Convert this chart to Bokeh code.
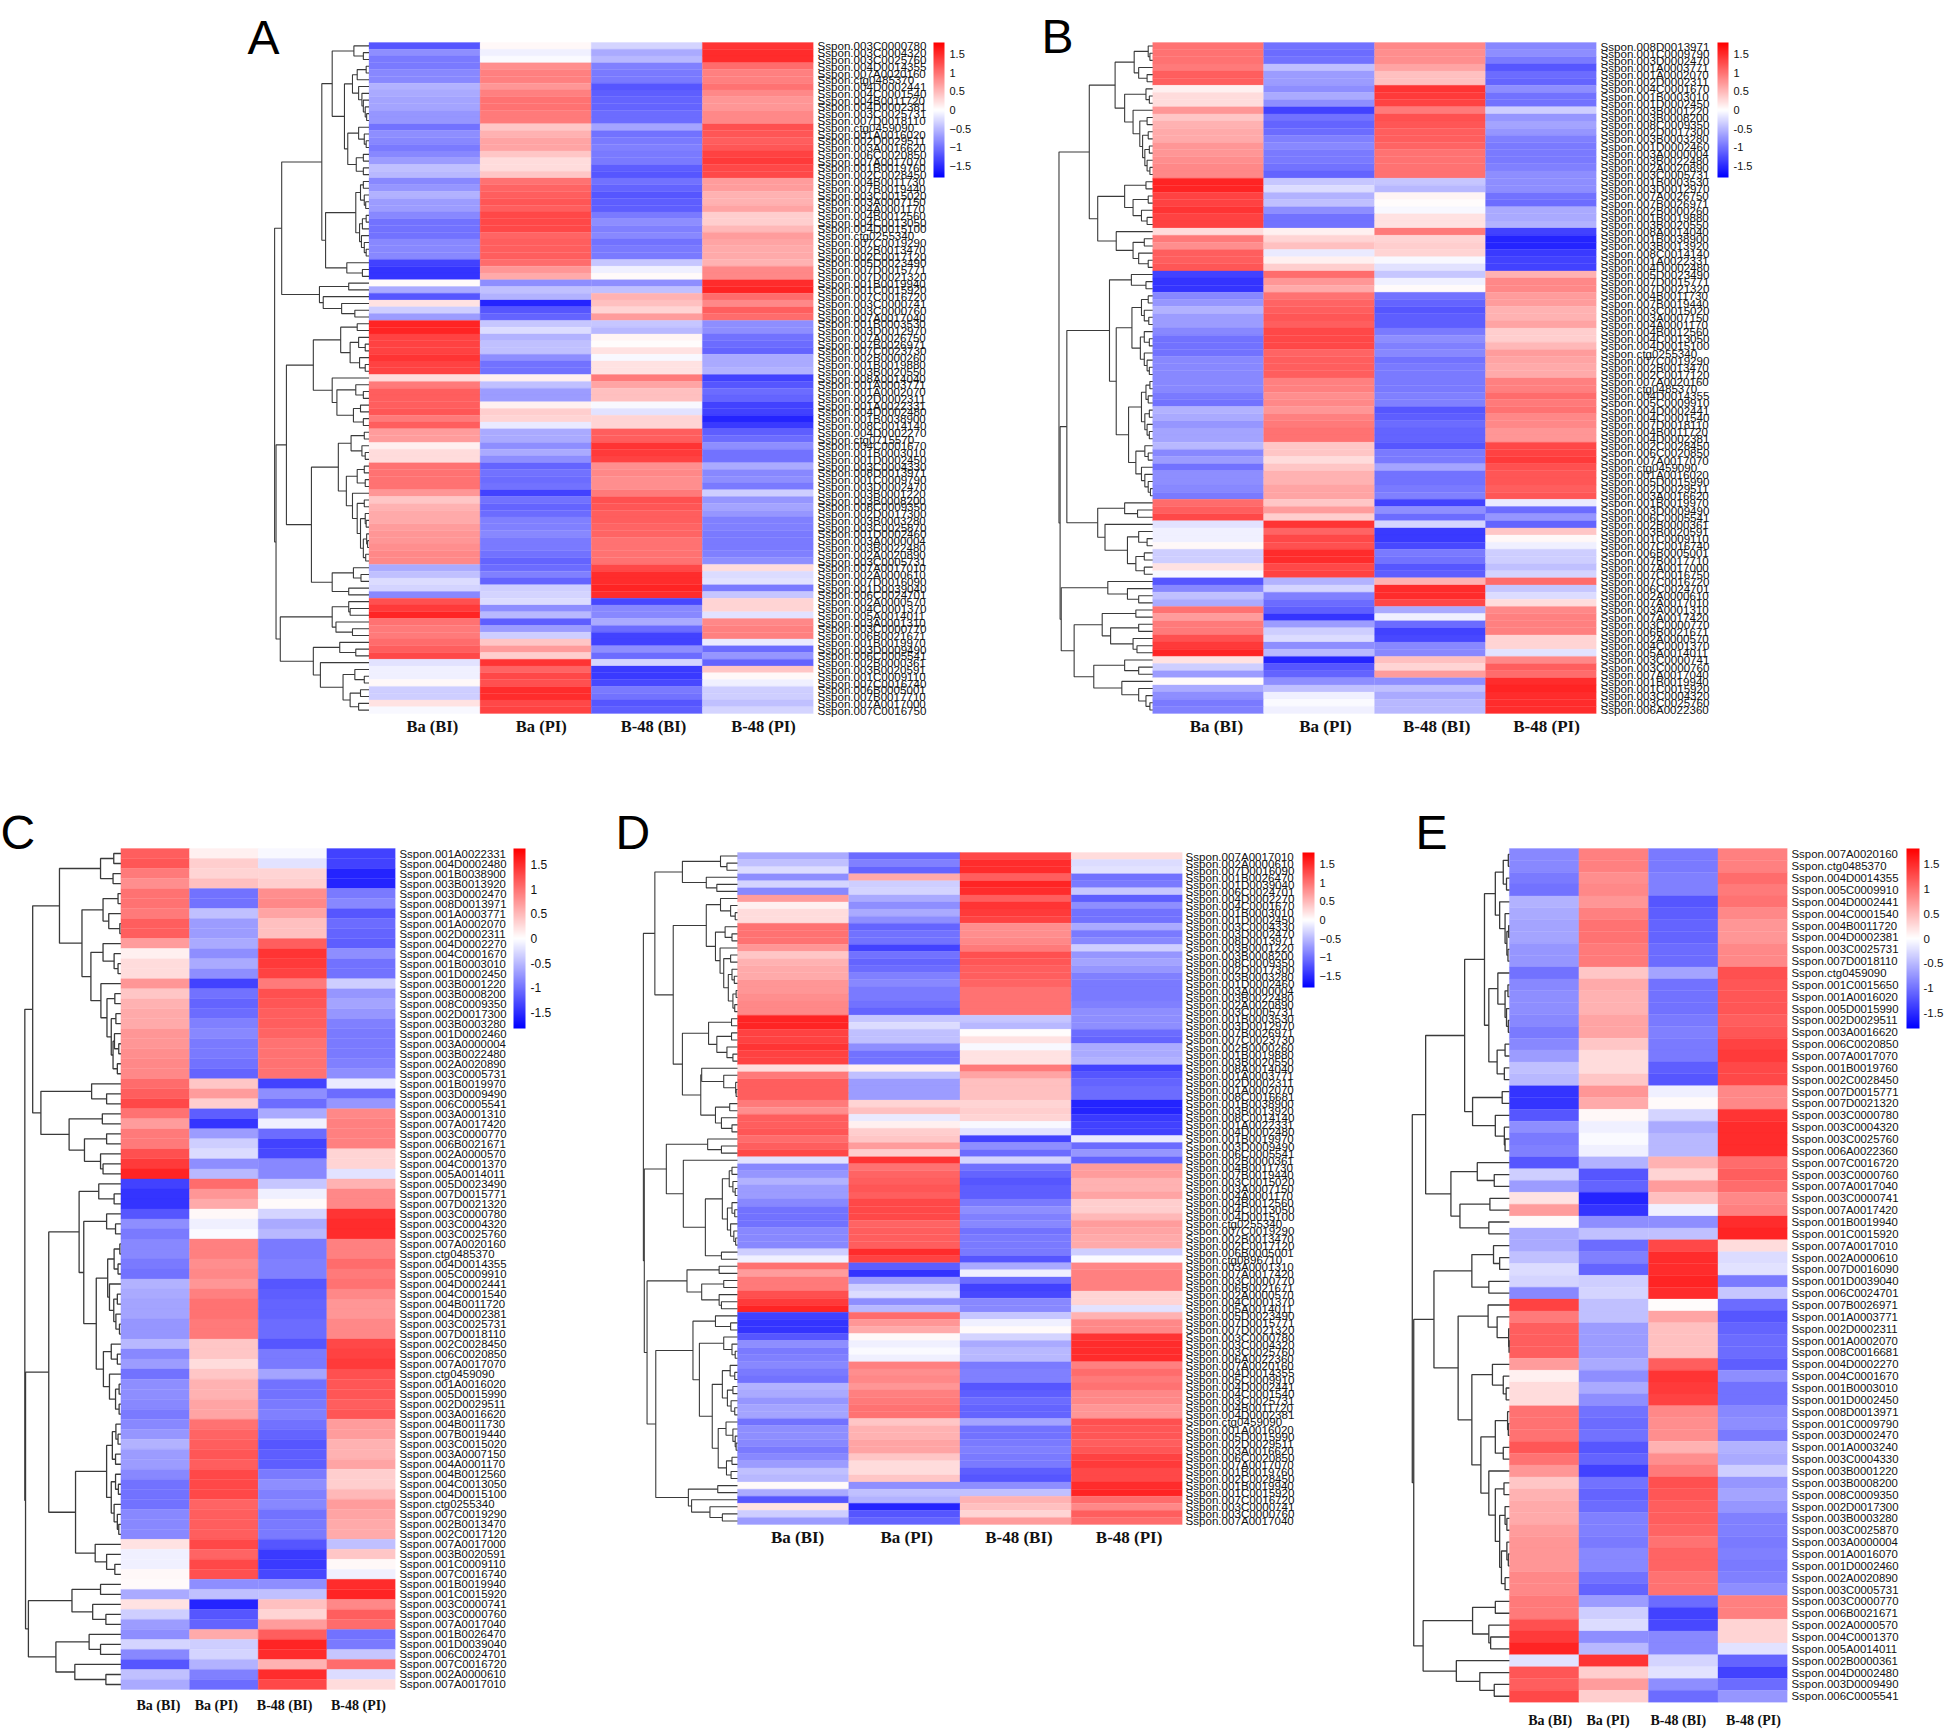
from bokeh.plotting import figure
from bokeh.layouts import column, row
from bokeh.models import Range1d, FixedTicker, LinearColorMapper, ColorBar, Label, ColumnDataSource, AllLabels
from bokeh.embed import file_html
from bokeh.resources import INLINE

conditions = ["Ba (BI)", "Ba (PI)", "B-48 (BI)", "B-48 (PI)"]

genes = """003C0000780 003C0004320 003C0025760 004D0014355 007A0020160 ctg0485370 004D0002441 004C0001540 004B0011720 004D0002381
003C0025731 007D0018110 ctg0459090 001A0016020 002D0029511 003A0016620 006C0020850 007A0017070 001B0019760 002C0028450
004B0011730 007B0019440 003C0015020 003A0007150 004A0001170 004B0012560 004C0013050 004D0015100 ctg0255340 007C0019290
002B0013470 002C0017120 005D0023490 007D0015771 007D0021320 001B0019940 001C0015920 007C0016720 003C0000741 003C0000760
007A0017040 001B0003530 003D0012970 007A0026750 007B0026971 007C0023730 002B0000260 001B0019880 003B0020550 008A0014040
001A0003771 001A0002070 002D0002311 008C0016681 001A0022331 004D0002480 001B0038900 003B0013920 008C0014140 004D0002270
ctg0715570 004C0001670 001B0003010 001D0002450 003C0004330 008D0013971 001C0009790 003D0002470 003B0001220 003B0008200
008C0009350 002D0017300 003B0003280 003C0025870 001D0002460 003A0000004 003B0022480 002A0020890 003C0005731 007A0017010
002A0000610 007D0016090 001D0039040 006C0024701 001B0026470 002A0000570 004C0001370 005A0014011 003A0001310 007A0017420
003C0000770 006B0021671 001B0019970 003D0009490 006C0005541 002B0000361 003B0020591 001C0009110 007C0016740 006B0005001
007B0017710 007A0017000 007C0016750 ctg0896710 001C0015650 001A0016070 001A0003240 005C0009910 005D0015990 006A0022360""".split()

ba_bi = [-1.2,-.8,-.95,-.95,-.85,-.85,-.55,-.6,-.65,-.65,
 -.75,-.75,-1.0,-.8,-.85,-.95,-.85,-.7,-.45,-.5,
 -.85,-.75,-.55,-.7,-.7,-.85,-1.0,-1.0,-1.0,-.85,
 -.85,-.85,-1.35,-1.45,-1.45,.03,-.6,-1.2,.2,-.35,
 -.7,1.55,1.55,1.35,1.35,1.35,1.45,1.35,1.35,.25,
 .95,1.15,1.15,1.15,1.15,1.2,.95,.8,1.15,.7,
 .7,.1,.25,.25,1.0,1.0,1.0,1.0,.75,.4,
 .55,.6,.6,.7,.75,.75,.8,.85,.85,-.6,
 -.45,-.25,-.3,-.85,-.8,1.25,1.4,1.55,1.0,.7,
 .95,.95,1.05,1.15,1.3,-.2,-.1,-.1,.05,-.35,
 -.35,.2,-.05,-.1,-.85,.75,1.2,-1.0,-.8,-.9]
ba_pi = [.05,-.1,-.03,.8,.9,.9,.75,.9,1.0,1.0,
 .95,.95,.4,.55,.65,.65,.4,.25,.25,.4,
 1.0,1.1,1.15,1.2,1.15,1.3,1.3,1.3,1.1,1.15,
 1.15,1.15,1.05,.75,.6,-.8,-.45,-.55,-1.55,-1.2,
 -1.1,-.4,-.25,-.55,-.45,-.45,-.8,-1.0,-1.0,.1,
 -.45,-.7,-.7,-.7,.1,.35,.3,.45,-.15,-.6,
 -.6,-.8,-.6,-.8,-1.1,-1.0,-1.05,-1.0,-1.35,-1.0,
 -1.1,-1.05,-.9,-.9,-.85,-.95,-.95,-1.0,-1.1,-1.05,
 -.9,-1.1,-.35,-.3,.6,-.25,-.8,-.5,-1.15,-1.45,
 -.7,-.35,.4,.7,.35,1.45,1.1,1.3,1.25,1.5,
 1.5,1.3,1.35,1.35,.6,-.85,-1.2,.85,.55,-.1]
b48_bi = [-.3,-.6,-.5,-.9,-.95,-.95,-1.2,-1.15,-1.1,-1.1,
 -1.05,-1.05,-.65,-1.0,-.95,-.9,-.95,-.95,-1.15,-1.2,
 -1.0,-1.1,-1.2,-1.15,-1.15,-.95,-.8,-.9,-.85,-1.0,
 -.95,-.95,-.4,-.1,.03,-.8,-.45,.55,.45,.3,
 .7,-.4,-.5,.08,.02,.2,-.05,.2,.2,.95,
 .65,.45,.45,.45,-.05,-.2,.3,.35,.3,1.15,
 1.15,1.45,1.4,1.35,.8,.85,.8,.8,.95,1.25,
 1.2,1.15,1.15,1.1,1.1,1.0,1.0,1.0,1.0,1.3,
 1.5,1.5,1.55,1.5,1.15,-1.3,-.85,-.85,-.6,-.1,
 -1.05,-1.35,-1.35,-.8,-1.05,-.3,-1.4,-1.4,-1.3,-.95,
 -1.0,-1.2,-1.15,-1.2,-1.0,1.1,.55,-.9,-1.0,-.5]
b48_pi = [1.45,1.5,1.5,1.05,.9,.9,1.0,.85,.75,.75,
 .85,.85,1.25,1.2,1.15,1.2,1.35,1.4,1.3,1.3,
 .7,.7,.55,.55,.65,.35,.35,.5,.7,.65,
 .6,.6,.55,.85,.85,1.5,1.55,1.05,.85,1.15,
 1.05,-.8,-.8,-1.0,-1.05,-1.1,-.6,-.6,-.55,-1.35,
 -1.2,-1.05,-1.1,-1.05,-1.35,-1.35,-1.55,-1.55,-1.4,-1.15,
 -1.05,-.8,-1.0,-1.0,-.6,-.85,-.8,-.95,-.35,-.75,
 -.65,-.75,-.9,-.9,-.95,-.95,-.95,-.9,-.8,.25,
 -.25,-.2,-.95,-.4,-1.0,.3,.3,-.2,.85,.9,
 .9,.9,-.15,-1.05,-.75,-1.1,.4,.05,-.1,-.35,
 -.35,-.45,-.3,-.03,1.2,-.9,-.55,.95,1.2,1.5]

order_a = """003C0000780 003C0004320 003C0025760 004D0014355 007A0020160 ctg0485370 004D0002441 004C0001540 004B0011720 004D0002381
003C0025731 007D0018110 ctg0459090 001A0016020 002D0029511 003A0016620 006C0020850 007A0017070 001B0019760 002C0028450
004B0011730 007B0019440 003C0015020 003A0007150 004A0001170 004B0012560 004C0013050 004D0015100 ctg0255340 007C0019290
002B0013470 002C0017120 005D0023490 007D0015771 007D0021320 001B0019940 001C0015920 007C0016720 003C0000741 003C0000760
007A0017040 001B0003530 003D0012970 007A0026750 007B0026971 007C0023730 002B0000260 001B0019880 003B0020550 008A0014040
001A0003771 001A0002070 002D0002311 001A0022331 004D0002480 001B0038900 008C0014140 004D0002270 ctg0715570 004C0001670
001B0003010 001D0002450 003C0004330 008D0013971 001C0009790 003D0002470 003B0001220 003B0008200 008C0009350 002D0017300
003B0003280 003C0025870 001D0002460 003A0000004 003B0022480 002A0020890 003C0005731 007A0017010 002A0000610 007D0016090
001D0039040 006C0024701 002A0000570 004C0001370 005A0014011 003A0001310 003C0000770 006B0021671 001B0019970 003D0009490
006C0005541 002B0000361 003B0020591 001C0009110 007C0016740 006B0005001 007B0017710 007A0017000 007C0016750""".split()

order_b = """008D0013971 001C0009790 003D0002470 001A0003771 001A0002070 002D0002311 004C0001670 001B0003010 001D0002450 003B0001220
003B0008200 008C0009350 002D0017300 003B0003280 001D0002460 003A0000004 003B0022480 002A0020890 003C0005731 001B0003530
003D0012970 007A0026750 007B0026971 002B0000260 001B0019880 003B0020550 008A0014040 001B0038900 003B0013920 008C0014140
001A0022331 004D0002480 005D0023490 007D0015771 007D0021320 004B0011730 007B0019440 003C0015020 003A0007150 004A0001170
004B0012560 004C0013050 004D0015100 ctg0255340 007C0019290 002B0013470 002C0017120 007A0020160 ctg0485370 004D0014355
005C0009910 004D0002441 004C0001540 007D0018110 004B0011720 004D0002381 002C0028450 006C0020850 007A0017070 ctg0459090
001A0016020 005D0015990 002D0029511 003A0016620 001B0019970 003D0009490 006C0005541 002B0000361 003B0020591 001C0009110
007C0016740 006B0005001 007B0017710 007A0017000 007C0016750 007C0016720 006C0024701 002A0000610 007A0017010 003A0001310
007A0017420 003C0000770 006B0021671 002A0000570 004C0001370 005A0014011 003C0000741 003C0000760 007A0017040 001B0019940
001C0015920 003C0004320 003C0025760 006A0022360""".split()

order_c = """001A0022331 004D0002480 001B0038900 003B0013920 003D0002470 008D0013971 001A0003771 001A0002070 002D0002311 004D0002270
004C0001670 001B0003010 001D0002450 003B0001220 003B0008200 008C0009350 002D0017300 003B0003280 001D0002460 003A0000004
003B0022480 002A0020890 003C0005731 001B0019970 003D0009490 006C0005541 003A0001310 007A0017420 003C0000770 006B0021671
002A0000570 004C0001370 005A0014011 005D0023490 007D0015771 007D0021320 003C0000780 003C0004320 003C0025760 007A0020160
ctg0485370 004D0014355 005C0009910 004D0002441 004C0001540 004B0011720 004D0002381 003C0025731 007D0018110 002C0028450
006C0020850 007A0017070 ctg0459090 001A0016020 005D0015990 002D0029511 003A0016620 004B0011730 007B0019440 003C0015020
003A0007150 004A0001170 004B0012560 004C0013050 004D0015100 ctg0255340 007C0019290 002B0013470 002C0017120 007A0017000
003B0020591 001C0009110 007C0016740 001B0019940 001C0015920 003C0000741 003C0000760 007A0017040 001B0026470 001D0039040
006C0024701 007C0016720 002A0000610 007A0017010""".split()

order_d = """007A0017010 002A0000610 007D0016090 001B0026470 001D0039040 006C0024701 004D0002270 004C0001670 001B0003010 001D0002450
003C0004330 003D0002470 008D0013971 003B0001220 003B0008200 008C0009350 002D0017300 003B0003280 001D0002460 003A0000004
003B0022480 002A0020890 003C0005731 001B0003530 003D0012970 007B0026971 007C0023730 002B0000260 001B0019880 003B0020550
008A0014040 001A0003771 002D0002311 001A0002070 008C0016681 001B0038900 003B0013920 008C0014140 001A0022331 004D0002480
001B0019970 003D0009490 006C0005541 002B0000361 004B0011730 007B0019440 003C0015020 003A0007150 004A0001170 004B0012560
004C0013050 004D0015100 ctg0255340 007C0019290 002B0013470 002C0017120 006B0005001 ctg0896710 003A0001310 007A0017420
003C0000770 006B0021671 002A0000570 004C0001370 005A0014011 005D0023490 007D0015771 007D0021320 003C0000780 003C0004320
003C0025760 006A0022360 007A0020160 004D0014355 005C0009910 004D0002441 004C0001540 003C0025731 004B0011720 004D0002381
ctg0459090 001A0016020 005D0015990 002D0029511 003A0016620 006C0020850 007A0017070 001B0019760 002C0028450 001B0019940
001C0015920 007C0016720 003C0000741 003C0000760 007A0017040""".split()

order_e = """007A0020160 ctg0485370 004D0014355 005C0009910 004D0002441 004C0001540 004B0011720 004D0002381 003C0025731 007D0018110
ctg0459090 001C0015650 001A0016020 005D0015990 002D0029511 003A0016620 006C0020850 007A0017070 001B0019760 002C0028450
007D0015771 007D0021320 003C0000780 003C0004320 003C0025760 006A0022360 007C0016720 003C0000760 007A0017040 003C0000741
007A0017420 001B0019940 001C0015920 007A0017010 002A0000610 007D0016090 001D0039040 006C0024701 007B0026971 001A0003771
002D0002311 001A0002070 008C0016681 004D0002270 004C0001670 001B0003010 001D0002450 008D0013971 001C0009790 003D0002470
001A0003240 003C0004330 003B0001220 003B0008200 008C0009350 002D0017300 003B0003280 003C0025870 003A0000004 001A0016070
001D0002460 002A0020890 003C0005731 003C0000770 006B0021671 002A0000570 004C0001370 005A0014011 002B0000361 004D0002480
003D0009490 006C0005541""".split()

# Dendrograms: [merge height, upper child, lower child], 0 = a leaf
tree_a = [200,
 [185,
  [100,
   [78, [32,0,[12,0,0]],
    [52, [35,[25,[6,0,0],0],[22,0,[15,0,[12,0,[8,0,[5,0,0]]]]]],
         [45,[22,0,[10,0,[6,0,0]]],[27,[12,0,0],[12,0,0]]]]],
   [92, [28,[18,[12,0,0],[10,0,[7,0,0]]],[20,[14,[6,0,0],0],[16,0,[10,0,[6,0,0]]]]],
        [47,0,[14,0,0]]]],
  [105,[43,0,0],[97,0,[58,0,[30,0,0]]]]],
 [197,
  [175,
   [118,
    [60,[25,0,0],[40,[22,0,[8,0,0]],[20,0,[8,0,0]]]],
    [78,0,[68,[28,0,[12,0,0]],[33,[18,0,0],[12,0,0]]]]],
   [122,
    [65,[38,[10,0,0],[15,0,[8,0,0]]],
        [48,[25,[10,0,0],[8,0,0]],
            [35,0,[25,[10,0,0],[18,[8,0,[6,0,0]],[12,[5,0,[3,0,0]],[7,0,0]]]]]]],
    [78,[33,0,[17,0,0]],[43,0,0]]]],
  [188,
   [78,[43,0,[40,0,0]],[70,0,[35,0,0]]],
   [118,[62,0,[28,0,0]],[103,0,[55,[30,0,[10,0,0]],[40,[18,0,0],[22,0,0]]]]]]]]

tree_b = [167,
 [113,
  [67,
   [33,[8,0,[5,0,0]],[25,0,[10,0,0]]],
   [50,[12,0,[6,0,0]],
       [35,0,[23,[10,0,0],[18,[8,0,0],[14,[6,0,0],[10,0,[5,0,0]]]]]]]],
  [98,
   [50,[12,0,0],[35,[8,0,0],[20,0,[10,0,0]]]],
   [65,0,[35,[15,0,0],[25,0,[8,0,0]]]]]],
 [165,
  [153,
   [77,
    [38,0,[12,0,0]],
    [65,
     [37,[20,[8,0,0],[15,0,[7,0,0]]],[22,[15,0,[6,0,0]],[15,0,[10,0,[6,0,0]]]]],
     [43,
      [20,[12,[5,0,0],[8,0,0]],[14,[6,0,0],[10,0,[6,0,0]]]],
      [30,[14,0,[8,0,0]],[20,0,[14,0,[8,0,[4,0,0]]]]]]]],
   [98,
    [50,0,[27,0,0]],
    [85,0,[45,[25,0,[10,0,0]],[30,[15,0,0],[15,0,0]]]]]],
  [163,
   [80,0,[45,0,[25,0,0]]],
   [140,
    [90,[30,0,0],[75,[25,0,0],[35,0,[28,0,0]]]],
    [105,[50,0,[25,0,0]],[55,0,[25,0,[12,0,[5,0,0]]]]]]]]]

tree_c = [269,
 [247,
  [172,
   [57,[20,0,0],[22,0,0]],
   [109,
    [50,[8,0,0],[34,0,[3,0,0]]],
    [84,
     [50,0,[19,0,[8,0,0]]],
     [56,0,[39,[17,0,0],[27,[14,0,0],[22,[18,0,[6,0,0]],[10,0,0]]]]]]]],
  [224,[82,0,[40,0,0]],[145,[52,0,0],[102,[40,0,0],[57,0,[50,0,0]]]]]],
 [267,
  [202,
   [117,
    [62,0,[19,0,0]],
    [104,
     [40,0,[15,0,0]],
     [69,
      [37,[19,[3,0,0],[8,0,0]],[32,0,[20,[10,0,0],[14,0,[4,0,0]]]]],
      [49,[27,0,[10,0,0]],[32,0,[15,[5,0,0],[5,0,0]]]]]]],
   [127,
    [40,[24,[14,0,[8,0,0]],[15,0,0]],[27,[15,0,[7,0,0]],[19,0,[10,0,[6,0,0]]]]],
    [72,0,[40,0,[17,0,0]]]]],
  [259,
   [137,[57,0,0],[79,0,[42,0,0]]],
   [182,[89,0,[57,0,0]],[129,0,[42,0,0]]]]]]

tree_d = [205,
 [180,
  [120,[37,0,[23,0,0]],[68,0,[45,0,0]]],
  [140,
   [68,
    [37,0,[15,0,[5,0,0]]],
    [48,[27,0,[12,0,0]],
        [38,0,[30,[15,0,0],[20,[12,0,[7,0,0]],[10,[3,0,0],[6,0,0]]]]]]],
   [120,
    [63,[13,0,0],[45,[13,0,0],[23,0,[10,0,0]]]],
    [80,[78,0,[30,0,[4,0,[3,0,0]]]],[48,[17,0,0],[35,0,[12,0,0]]]]]]],
 [203,
  [155,
   [65,0,[35,0,0]],
   [118,0,
    [70,
     [33,[18,[12,0,0],[10,0,[5,0,0]]],[22,[12,0,[6,0,0]],[15,0,[8,0,[4,0,0]]]]],
     [35,0,0]]]],
  [197,
   [110,[40,0,0],[78,[30,0,0],[40,0,[35,0,0]]]],
   [178,
    [97,
     [48,0,[15,0,0]],
     [83,
      [30,0,[12,0,[5,0,0]]],
      [55,
       [33,[16,0,[6,0,0]],[22,[10,0,0],[14,0,[6,0,0]]]],
       [42,[25,0,[10,0,[5,0,[3,0,0]]]],[24,[12,0,0],[14,0,0]]]]]],
    [107,[43,0,0],[100,0,[60,0,[33,0,0]]]]]]]]

tree_e = [269,
 [232,
  [124,
   [69,
    [39,[17,[3,0,0],[8,0,0]],[27,0,[12,0,[7,[2,0,0],[4,0,0]]]]],
    [57,[32,0,[12,[4,0,0],[8,0,[3,0,0]]]],[34,[12,0,0],[14,0,0]]]],
   [102,[20,0,0],[39,0,[14,0,[12,0,0]]]]],
  [162,[89,0,[42,0,0]],[137,[54,0,0],[57,0,0]]]],
 [265,
  [209,
   [104,[44,0,[27,0,0]],[57,0,0]],
   [142,
    [59,0,[34,0,[2,0,[1,0,0]]]],
    [104,
     [47,0,[17,0,[9,0,0]]],
     [79,
      [39,[5,0,[3,0,0]],[17,0,0]],
      [57,0,[39,[15,0,0],[27,[12,0,[7,0,0]],[22,[7,0,[3,0,0]],[12,0,0]]]]]]]]],
  [239,
   [102,[39,0,0],[57,0,[52,0,0]]],
   [147,0,[82,0,[42,0,0]]]]]]

colorbar_ticks = [-1.5, -1, -0.5, 0, 0.5, 1, 1.5]

value_of = {g: (a, b, c, d) for g, a, b, c, d in zip(genes, ba_bi, ba_pi, b48_bi, b48_pi)}


def ramp():
    out = []
    for i in range(256):
        t = i / 255
        if t < .5:
            k = int(round(255 * t * 2))
            out.append("#%02x%02xff" % (k, k))
        else:
            k = int(round(255 * (1 - t) * 2))
            out.append("#ff%02x%02x" % (k, k))
    return out


mapper = LinearColorMapper(palette=ramp(), low=-1.82, high=1.82)


def walk(node, state, xs, ys, unit):
    """Returns (x, y) of the node; leaves sit on the heatmap's left edge."""
    if node == 0:
        y = state["row"] + .5
        state["row"] += 1
        return 0.0, y
    x0, y0 = walk(node[1], state, xs, ys, unit)
    x1, y1 = walk(node[2], state, xs, ys, unit)
    x = -node[0] * unit
    xs.append([x0, x, x, x1])
    ys.append([y0, y0, y1, y1])
    return x, (y0 + y1) / 2


def panel(letter, order, tree, box, heat, zoomx, tick_pos, lab, cond_size, cond_off, gene_size,
          tick_size, letter_xy, cb, minus, lw, cb_standoff=5):
    bx0, by0, bx1, by1 = box
    hl, ht, hr, hb = heat
    n = len(order)
    rowh = (hb - ht) / n
    right_border = int(round(bx1 - hr))
    # the frame's right edge is a whole pixel: keep the four columns on it
    hr_snapped = bx1 - right_border
    colw = (hr_snapped - hl) / 4
    p = figure(width=bx1 - bx0, height=by1 - by0,
               x_range=Range1d(-(hl - bx0) / colw, 4),
               y_range=Range1d(n + (by1 - hb) / rowh, -(ht - by0) / rowh),
               y_axis_location="right", output_backend="svg", toolbar_location=None,
               min_border_left=0, min_border_top=0,
               min_border_right=right_border, min_border_bottom=0,
               outline_line_color=None, background_fill_color="white", border_fill_color="white")
    p.grid.visible = False

    xs, ys, vs = [], [], []
    for i, g in enumerate(order):
        for j in range(4):
            xs.append(j + .5)
            ys.append(i + .5)
            vs.append(value_of[g][j])
    src = ColumnDataSource(dict(x=xs, y=ys, v=vs))
    p.rect("x", "y", width=1, height=1, source=src,
           fill_color={"field": "v", "transform": mapper},
           line_color={"field": "v", "transform": mapper}, line_width=.3)

    lx, ly = [], []
    walk(tree, {"row": 0}, lx, ly, 1 / (zoomx * colw))
    p.multi_line(lx, ly, line_color="#3a3a3a", line_width=lw)

    ax = p.yaxis[0]
    ax.ticker = FixedTicker(ticks=[i + .5 for i in range(n)])
    ax.major_label_overrides = {i + .5: "Sspon." + g for i, g in enumerate(order)}
    ax.major_label_policy = AllLabels()
    ax.axis_line_color = None
    ax.major_tick_line_color = None
    ax.minor_tick_line_color = None
    ax.major_tick_out = 0
    ax.major_tick_in = 0
    ax.minor_tick_out = 0
    ax.major_label_standoff = lab
    ax.major_label_text_font = "Liberation Sans"
    ax.major_label_text_font_size = gene_size
    ax.major_label_text_color = "#111111"

    xa = p.xaxis[0]
    xa.fixed_location = n
    xa.ticker = FixedTicker(ticks=tick_pos)
    xa.major_label_overrides = dict(zip(tick_pos, conditions))
    xa.axis_line_color = None
    xa.major_tick_line_color = None
    xa.minor_tick_line_color = None
    xa.major_tick_out = 0
    xa.major_tick_in = 0
    xa.minor_tick_out = 0
    xa.major_label_standoff = cond_off
    xa.major_label_text_font = "Liberation Serif"
    xa.major_label_text_font_style = "bold"
    xa.major_label_text_font_size = cond_size
    xa.major_label_text_color = "#111111"

    labels = {t: (("\u2212" if minus else "-") + str(abs(t)).replace(".0", "") if t < 0 else str(t).replace(".0", ""))
              for t in colorbar_ticks}
    frame_h = by1 - by0
    bar = ColorBar(color_mapper=mapper, width=cb[0], height=cb[1], padding=0, margin=0,
                   location=(cb[2], frame_h - (ht - by0) - cb[1]), ticker=FixedTicker(ticks=colorbar_ticks),
                   major_label_overrides=labels, major_tick_line_color=None, minor_tick_line_color=None,
                   bar_line_color=None, major_label_text_font="Liberation Sans",
                   major_label_text_font_size=tick_size, label_standoff=cb_standoff, major_label_text_color="#111111",
                   background_fill_color=None, border_line_color=None)
    p.add_layout(bar, "right")

    p.add_layout(Label(x=(letter_xy[0] - hl) / colw, y=(letter_xy[1] - ht) / rowh, text=letter,
                       text_font="Liberation Sans", text_font_size="48px", text_color="black",
                       text_baseline="alphabetic", text_align="left"))
    return p


A = panel("A", order_a, tree_a, (0, 0, 1010, 775), (368.5, 42, 813, 713), 2.119,
          [.57, 1.55, 2.56, 3.55], 4, "16.5px", 3, "11.6px", "11px", (247, 37), (11, 135, 4), True, 1.1)
B = panel("B", order_b, tree_b, (1010, 0, 1946, 775), (1152.2, 42, 1596, 713), 1.782,
          [.574, 1.556, 2.56, 3.55], 4, "17px", 3, "11.6px", "11px", (1041, 36), (11, 135, 5), False, 1.1)
C = panel("C", order_c, tree_c, (0, 775, 600, 1730), (120.4, 848, 394.6, 1689), 2.8,
          [.546, 1.39, 2.385, 3.46], 4, "14px", 8, "11.4px", "12px", (0, 832), (12, 180, 4), False, 1.3)
D = panel("D", order_d, tree_d, (600, 775, 1380, 1730), (737, 852, 1181.5, 1524), 2.178,
          [.54, 1.52, 2.53, 3.52], 3, "17px", 3, "11.6px", "11px", (615, 832), (12, 135, 5), True, 1.1)
E = panel("E", order_e, tree_e, (1380, 775, 1946, 1730), (1508.9, 848, 1787, 1701.7), 2.77,
          [.587, 1.42, 2.43, 3.51], 4, "14px", 11, "11.4px", "11.5px", (1415, 832), (13, 180, 5), False, 1.3, 4)

page = column(row(A, B), row(C, D, E), spacing=0)
open("out.html", "w").write(file_html(page, INLINE))
